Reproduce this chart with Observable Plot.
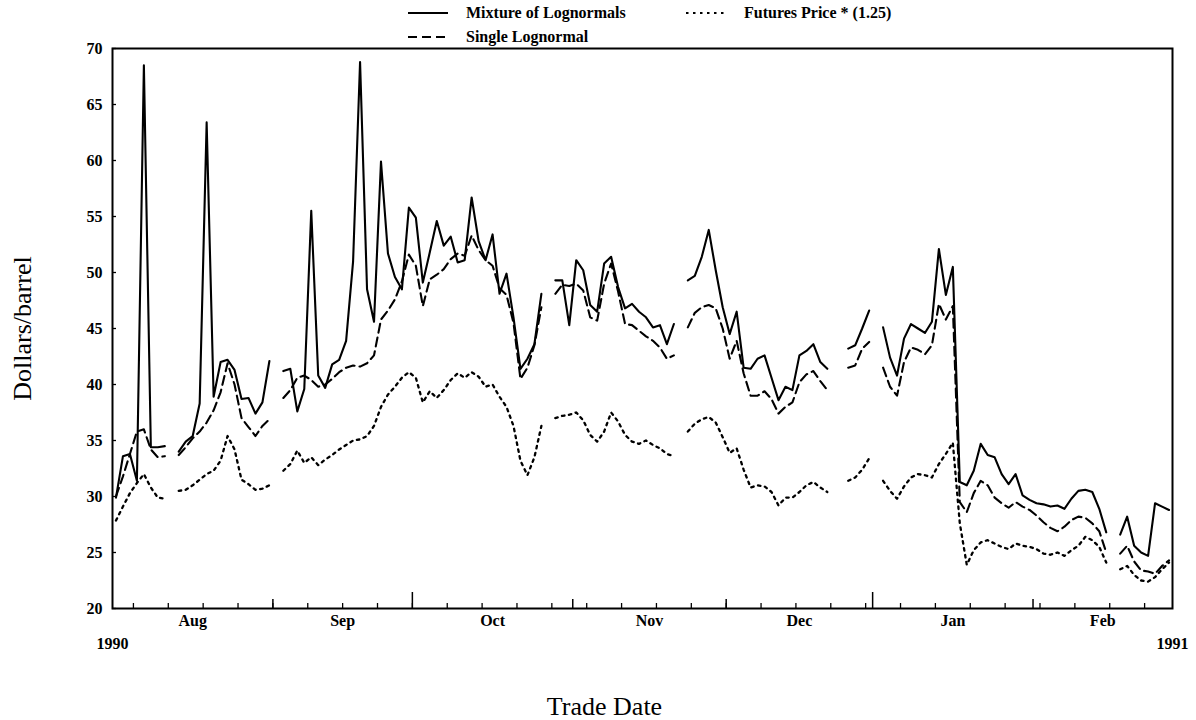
<!DOCTYPE html>
<html>
<head>
<meta charset="utf-8">
<script src="https://cdn.jsdelivr.net/npm/d3@7"></script>
<script src="https://cdn.jsdelivr.net/npm/@observablehq/plot@0.6"></script>
<style>
  html, body { margin: 0; padding: 0; background: #fff; }
  #wrap { position: relative; width: 1196px; height: 720px; overflow: hidden; }
  #legend { position: absolute; left: 0; top: 0; width: 1196px; height: 46px;
            font-family: "Liberation Serif", "Times New Roman", serif; font-weight: bold; font-size: 16px; color: #000; }
  .item { position: absolute; display: flex; align-items: center; height: 20px; white-space: nowrap; }
  .item svg { display: block; }
  .item span { margin-left: 18px; }
</style>
</head>
<body>
<div id="wrap">
  <div id="chart"></div>
  <div id="legend"></div>
</div>
<script>
// ---------- data (one value per weekday, 1 Aug 1990 .. 28 Feb 1991; null = no quote) ----------
const firstDay = new Date(1990, 7, 1);
const endDay = new Date(1991, 2, 1);
const tradeDays = d3.timeDay.range(firstDay, endDay).filter(d => d.getDay() > 0 && d.getDay() < 6);

const seriesNames = ["Mixture of Lognormals", "Single Lognormal", "Futures Price * (1.25)"];

const mixture = [
  29.9, 33.6, 33.8, 31.4, 68.5, 34.4, 34.4, 34.5, null, 34.0,
  34.9, 35.4, 38.3, 63.4, 38.9, 42.0, 42.2, 41.3, 38.7, 38.8,
  37.4, 38.4, 42.1, null, 41.2, 41.4, 37.6, 39.6, 55.5, 40.8,
  39.7, 41.8, 42.2, 43.9, 51.0, 68.8, 48.5, 45.6, 59.9, 51.7,
  49.6, 48.5, 55.8, 54.9, 49.1, 51.8, 54.6, 52.4, 53.2, 50.9,
  51.1, 56.7, 52.8, 51.1, 53.4, 48.1, 49.9, 46.0, 41.4, 42.3,
  43.6, 48.1, null, 49.3, 49.3, 45.3, 51.1, 50.2, 47.1, 46.5,
  50.8, 51.4, 48.7, 46.8, 47.2, 46.5, 46.0, 45.1, 45.3, 43.6,
  45.4, null, 49.3, 49.7, 51.4, 53.8, 50.2, 46.9, 44.5, 46.5,
  41.5, 41.4, 42.3, 42.6, 40.6, 38.6, 39.8, 39.5, 42.6, 43.0,
  43.6, 42.0, 41.4, null, null, 43.2, 43.5, 45.0, 46.6, null,
  45.1, 42.4, 40.8, 44.1, 45.4, 45.0, 44.6, 45.6, 52.1, 48.0,
  50.5, 31.3, 31.0, 32.3, 34.7, 33.7, 33.5, 32.0, 31.1, 32.0,
  30.1, 29.7, 29.4, 29.3, 29.1, 29.2, 28.9, 29.8, 30.5, 30.6,
  30.4, 28.9, 26.8, null, 26.6, 28.2, 25.6, 25.0, 24.7, 29.4,
  29.1, 28.8
];

const single = [
  30.0, 31.8, 33.8, 35.8, 36.0, 34.2, 33.5, 33.6, null, 33.7,
  34.4, 35.2, 35.8, 36.6, 37.7, 39.3, 41.9, 40.0, 37.0, 36.2,
  35.4, 36.3, 36.9, null, 38.8, 39.5, 40.6, 40.8, 40.4, 39.8,
  40.0, 40.5, 41.1, 41.5, 41.7, 41.6, 41.9, 42.6, 45.8, 46.6,
  47.6, 49.2, 51.6, 50.6, 47.0, 49.4, 49.8, 50.3, 51.2, 51.7,
  51.5, 53.3, 52.0, 51.1, 50.6, 48.6, 48.0, 45.5, 40.5, 41.5,
  43.5, 46.9, null, 48.1, 48.9, 48.8, 49.0, 48.4, 46.0, 45.7,
  49.0, 50.8, 48.3, 45.4, 45.3, 44.8, 44.3, 43.9, 43.3, 42.3,
  42.6, null, 45.1, 46.4, 46.9, 47.1, 46.8, 45.0, 42.3, 43.9,
  41.0, 39.0, 39.0, 39.4, 38.7, 37.4, 38.0, 38.4, 40.2, 40.9,
  41.2, 40.3, 39.5, null, null, 41.5, 41.7, 43.2, 43.8, null,
  41.5, 39.8, 39.0, 42.0, 43.3, 43.1, 42.7, 43.5, 47.2, 45.8,
  47.0, 29.5, 28.6, 30.3, 31.4, 31.0, 29.9, 29.4, 29.0, 29.5,
  29.1, 28.8, 28.3, 27.7, 27.2, 26.9, 27.3, 27.9, 28.2, 28.1,
  27.6, 26.9, 25.0, null, 24.9, 25.6, 24.2, 23.4, 23.3, 23.1,
  23.8, 24.3
];

const futures = [
  27.85, 29.1, 30.3, 31.2, 32.0, 30.8, 29.9, 29.8, null, 30.5,
  30.6, 31.0, 31.5, 32.0, 32.3, 33.2, 35.4, 34.2, 31.5, 31.1,
  30.6, 30.7, 31.0, null, 32.3, 32.9, 34.1, 33.0, 33.5, 32.8,
  33.3, 33.7, 34.2, 34.6, 35.0, 35.1, 35.4, 36.3, 38.0, 39.1,
  39.8, 40.6, 41.1, 40.6, 38.4, 39.4, 38.8, 39.5, 40.4, 41.0,
  40.6, 41.1, 40.7, 39.8, 40.0, 38.9, 38.0, 36.3, 33.2, 31.9,
  33.5, 36.3, null, 37.0, 37.2, 37.3, 37.5, 36.8, 35.5, 34.9,
  35.8, 37.5, 36.7, 35.5, 34.9, 34.7, 35.0, 34.6, 34.3, 33.8,
  33.6, null, 35.8, 36.5, 36.9, 37.1, 36.6, 35.3, 33.9, 34.3,
  32.4, 30.8, 31.0, 30.9, 30.4, 29.2, 29.9, 29.9, 30.4, 31.0,
  31.3, 30.8, 30.4, null, null, 31.4, 31.7, 32.4, 33.4, null,
  31.4, 30.5, 29.8, 30.9, 31.7, 32.0, 31.9, 31.7, 32.9, 33.8,
  34.8, 27.6, 23.9, 25.2, 25.9, 26.1, 25.8, 25.5, 25.3, 25.8,
  25.6, 25.5, 25.3, 24.9, 24.8, 25.0, 24.7, 25.2, 25.6, 26.4,
  26.1, 25.5, 24.1, null, 23.5, 23.8, 23.0, 22.5, 22.4, 22.8,
  23.5, 24.1
];

const monthNames = ["Aug", "Sep", "Oct", "Nov", "Dec", "Jan", "Feb"];
const yearLabels = ["1990", "1991"];
const yTicks = [20, 25, 30, 35, 40, 45, 50, 55, 60, 65, 70];
const yLabel = "Dollars/barrel";
const xLabel = "Trade Date";

// ---------- derived tables ----------
const seriesValues = [mixture, single, futures];
const seriesRows = seriesValues.map((vals, s) =>
  tradeDays.map((d, i) => ({ pos: i + 0.5, date: d, value: vals[i], series: seriesNames[s] }))
);

const mondayIdx = [], monthIdx = [], quarterIdx = [];
tradeDays.forEach((d, i) => {
  if (i > 0 && d.getMonth() !== tradeDays[i - 1].getMonth()) {
    if (d.getMonth() % 3 === 0) quarterIdx.push(i); else monthIdx.push(i);
  }
  if (d.getDay() === 1) mondayIdx.push(i);
});
const fmtMonth = d3.timeFormat("%b");
const monthCenters = monthNames.map(name => {
  const idx = tradeDays.map((d, i) => i).filter(i => fmtMonth(tradeDays[i]) === name);
  return { name, pos: (idx[0] + idx[idx.length - 1] + 1) / 2 };
});

const W = 1196, H = 720, mL = 112, mR = 24, mT = 48, mB = 112;
const plotH = H - mT - mB, plotW = W - mL - mR;
const serif = "'Liberation Serif', 'Times New Roman', serif";

const chart = Plot.plot({
  width: W, height: H,
  marginLeft: mL, marginRight: mR, marginTop: mT, marginBottom: mB,
  style: { fontFamily: serif, background: "#fff", color: "#000", overflow: "visible" },
  x: { type: "linear", domain: [0, tradeDays.length], axis: null },
  y: { domain: [20, 70], axis: null },
  marks: [
    Plot.ruleX(mondayIdx, { x: d => d, insetTop: plotH - 5, stroke: "#000", strokeWidth: 1.3 }),
    Plot.ruleX(monthIdx, { x: d => d, insetTop: plotH - 9, stroke: "#000", strokeWidth: 1.5 }),
    Plot.ruleX(quarterIdx, { x: d => d, insetTop: plotH - 16, stroke: "#000", strokeWidth: 1.5 }),
    Plot.ruleY(yTicks, { y: d => d, insetRight: plotW - 4, stroke: "#000", strokeWidth: 1.3 }),
    Plot.text(yTicks, { y: d => d, text: d => String(d), frameAnchor: "left", dx: -10, textAnchor: "end",
      lineAnchor: "middle", fontWeight: "bold", fontSize: 16, fill: "#000" }),
    Plot.line(seriesRows[2], { x: "pos", y: "value", stroke: "#000", strokeWidth: 2.3, strokeDasharray: "2.5,4.5" }),
    Plot.line(seriesRows[1], { x: "pos", y: "value", stroke: "#000", strokeWidth: 2.1, strokeDasharray: "9,5" }),
    Plot.line(seriesRows[0], { x: "pos", y: "value", stroke: "#000", strokeWidth: 2.1 }),
    Plot.frame({ stroke: "#000", strokeWidth: 2 }),
    Plot.text(monthCenters, { x: "pos", text: "name", frameAnchor: "bottom", lineAnchor: "middle", dy: 12,
      fontWeight: "bold", fontSize: 16, fill: "#000" }),
    Plot.text(yearLabels, { x: (d, i) => i === 0 ? 0 : tradeDays.length, text: d => d, frameAnchor: "bottom",
      lineAnchor: "middle", dy: 35, fontWeight: "bold", fontSize: 16, fill: "#000" }),
    Plot.text([xLabel], { text: d => d, frameAnchor: "bottom", lineAnchor: "middle", textAnchor: "middle",
      dx: -38, dy: 98, fontSize: 26, fill: "#000" }),
    Plot.text([yLabel], { text: d => d, frameAnchor: "left", textAnchor: "middle", lineAnchor: "middle",
      dx: -90, rotate: -90, fontSize: 26, fill: "#000" })
  ]
});
document.getElementById("chart").appendChild(chart);

// ---------- legend ----------
const legendItems = [
  { name: seriesNames[0], dash: null, left: 408, top: 3 },
  { name: seriesNames[2], dash: "2.5,4.5", left: 686, top: 3 },
  { name: seriesNames[1], dash: "9,5", left: 408, top: 27 }
];
const legend = d3.select("#legend");
legendItems.forEach(it => {
  const div = legend.append("div").attr("class", "item").style("left", it.left + "px").style("top", it.top + "px");
  const svg = div.append("svg").attr("width", 40).attr("height", 20);
  svg.append("line").attr("x1", 0).attr("x2", 40).attr("y1", 10).attr("y2", 10)
    .attr("stroke", "#000").attr("stroke-width", 2).attr("stroke-dasharray", it.dash);
  div.append("span").text(it.name);
});
</script>
</body>
</html>
